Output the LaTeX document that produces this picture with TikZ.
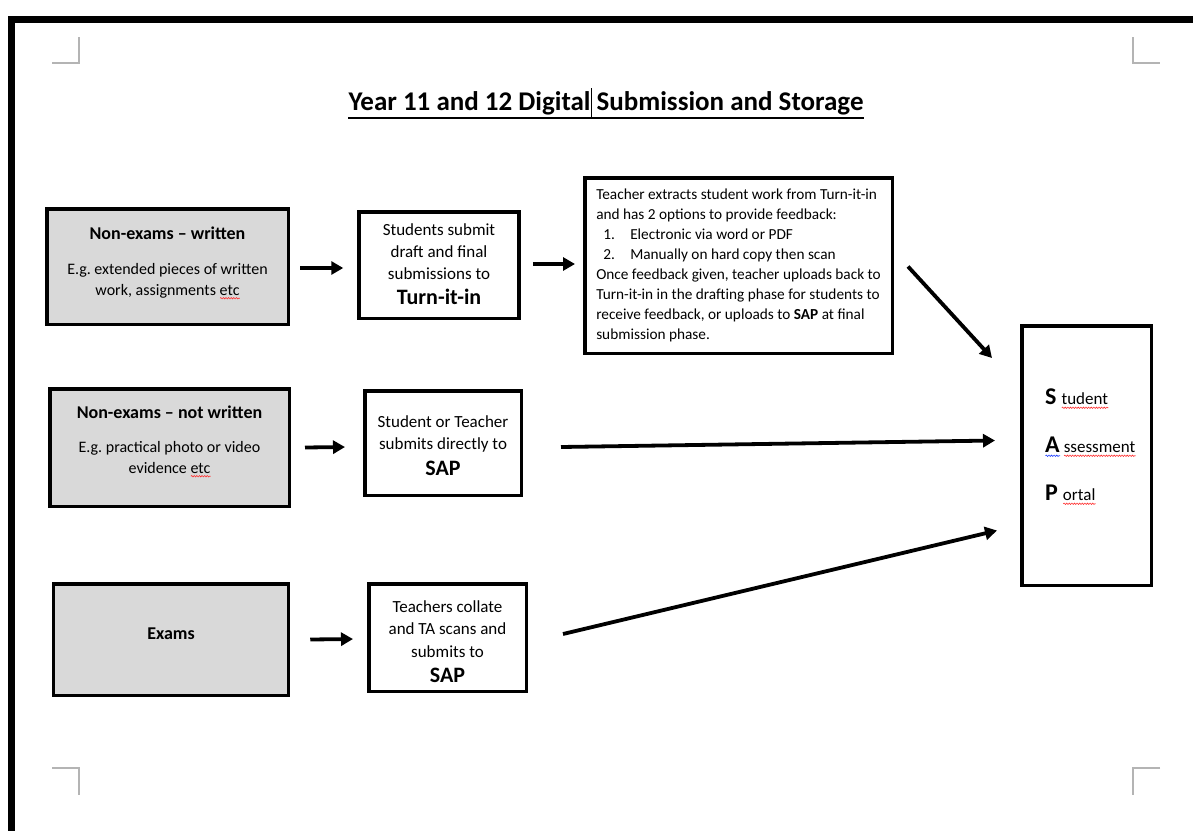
\documentclass[tikz,border=0pt]{standalone}
\usepackage{fontspec}
\setmainfont{Carlito}
\frenchspacing
\usetikzlibrary{arrows.meta,calc,decorations.pathmorphing}
\definecolor{boxgray}{HTML}{D9D9D9}
\definecolor{cropgray}{HTML}{B4B4B4}
\definecolor{squigred}{HTML}{FF3030}
\definecolor{squigblue}{HTML}{2040FF}
\newlength\sqlen
\newcommand\sq[2]{\settowidth\sqlen{#2}\rlap{\tikz[baseline=0pt]\draw[#1,line width=0.6pt,decorate,decoration={snake,amplitude=0.7pt,segment length=2.6pt}](0pt,-2.8pt)--(\sqlen,-2.8pt);}{#2}}
\begin{document}
\begin{tikzpicture}[x=1pt,y=-1pt,
  box/.style={draw=black,line width=3.5pt,inner sep=0pt},
  graybox/.style={box,fill=boxgray},
  txt/.style={align=center,inner sep=0pt,font=\fontsize{16}{21}\selectfont},
  mtxt/.style={align=center,inner sep=0pt,font=\fontsize{17}{22}\selectfont},
  arr/.style={line width=3.8pt,-{Triangle[length=12pt,width=13pt]}},
  crop/.style={draw=cropgray,line width=1.2pt}]
\useasboundingbox (0,0) rectangle (1193,830);
\fill[white] (0,0) rectangle (1193,830);
% page border
\draw[line width=7pt] (11,835) -- (11,19) -- (1198,19);
% crop marks
\draw[crop] (79,37) -- (79,63) -- (52,63);
\draw[crop] (1133,37) -- (1133,63) -- (1160,63);
\draw[crop] (52,768) -- (79,768) -- (79,795);
\draw[crop] (1160,768) -- (1133,768) -- (1133,795);
% title
\node[font=\fontsize{27}{30}\selectfont\bfseries,inner sep=0pt] (title) at (606,103)
  {Year 11 and 12 Digital\smash{\rlap{\rule[-8pt]{0.7pt}{30pt}}} Submission and Storage};
\draw[line width=2pt] ([yshift=-7.5pt]title.base west) -- ([yshift=-7.5pt]title.base east);
% left column
\node[graybox,minimum width=241.5pt,minimum height=115.5pt,
  label={[txt,yshift=3.5pt]center:{{\fontsize{18}{22}\selectfont\bfseries Non-exams -- written}\\[14pt]E.g. extended pieces of written\\work, assignments \sq{squigred}{etc}}}] (a1) at (167.5,266.5) {};
\node[graybox,minimum width=239.5pt,minimum height=117.5pt,
  label={[txt,yshift=6pt]center:{{\fontsize{18}{22}\selectfont\bfseries Non-exams -- not written}\\[13pt]E.g. practical photo or video\\evidence \sq{squigred}{etc}}}] (a2) at (169.5,447.5) {};
\node[graybox,minimum width=235pt,minimum height=111.5pt,
  label={[txt,yshift=6pt,font=\fontsize{18}{22}\selectfont\bfseries]center:Exams}] (a3) at (171,639.5) {};
% middle column
\node[box,minimum width=160pt,minimum height=106.5pt,
  label={[mtxt,yshift=1pt]center:{Students submit\\draft and final\\submissions to\\[3pt]{\fontsize{22}{24}\selectfont\bfseries Turn-it-in}}}] (b1) at (439,265) {};
\node[box,minimum width=156.5pt,minimum height=104.5pt,
  label={[mtxt,yshift=-3pt]center:{Student or Teacher\\submits directly to\\[4pt]{\fontsize{22}{24}\selectfont\bfseries SAP}}}] (b2) at (443,443) {};
\node[box,minimum width=157.5pt,minimum height=107.5pt,
  label={[mtxt,yshift=-4pt,font=\fontsize{17}{22.5}\selectfont]center:{Teachers collate\\and TA scans and\\submits to\\[3pt]{\fontsize{22}{24}\selectfont\bfseries SAP}}}] (b3) at (447.5,637.5) {};
% teacher box
\node[box,align=left,minimum width=307.5pt,minimum height=175.5pt,font=\fontsize{15.3}{20}\selectfont] (c) at (738.5,265.5)
  {Teacher extracts student work from Turn-it-in\\
   and has 2 options to provide feedback:\\
   \hspace*{7pt}\makebox[27pt][l]{1.}Electronic via word or PDF\\
   \hspace*{7pt}\makebox[27pt][l]{2.}Manually on hard copy then scan\\
   Once feedback given, teacher uploads back to\\
   Turn-it-in in the drafting phase for students to\\
   receive feedback, or uploads to \textbf{SAP} at final\\
   submission phase.};
% SAP box
\node[box,minimum width=129.5pt,minimum height=259.5pt] (sap) at (1086.5,455.5) {};
\node[align=left,inner sep=0pt,anchor=west,font=\fontsize{17}{48}\selectfont] (sapt) at (1045,447)
  {{\fontsize{24}{48}\selectfont\bfseries S}\hspace{5pt}\sq{squigred}{tudent}\\
   \sq{squigblue}{\fontsize{24}{48}\selectfont\bfseries A}\hspace{4pt}\sq{squigred}{ssessment}\\
   {\fontsize{24}{48}\selectfont\bfseries P}\hspace{5pt}\sq{squigred}{ortal}};
% arrows
\draw[arr] ($(a1.east)+(10,1.5)$) -- ($(b1.west)+(-14,3)$);
\draw[arr] ($(b1.east)+(12,-1)$) -- ($(c.west)+(-8,-1.5)$);
\draw[arr] ($(a2.east)+(14,0)$) -- ($(b2.west)+(-18,4)$);
\draw[arr] ($(a3.east)+(20,0)$) -- ($(b3.west)+(-14,1.5)$);
\draw[arr] ($(c.east)+(14,1)$) -- ($(sap.north west)+(-28,34)$);
\draw[arr] ($(b2.east)+(38,4)$) -- ($(sap.west)+(-25,-15)$);
\draw[arr] ($(b3.east)+(35,-3.5)$) -- ($(sap.west)+(-23,75)$);
\end{tikzpicture}
\end{document}
